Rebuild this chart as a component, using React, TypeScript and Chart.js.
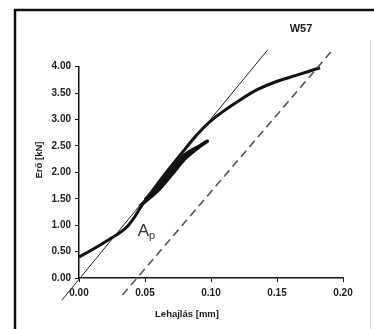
import React, { useEffect, useRef } from "react";
import { Chart, registerables } from "chart.js";

Chart.register(...registerables);

// Main load–deflection curve
const curveX = [0, 0.0096, 0.0222, 0.0348, 0.0411, 0.0475, 0.06, 0.07, 0.08, 0.0885, 0.0992, 0.109, 0.122, 0.1346, 0.1497, 0.165, 0.1826];
const curveY = [0.4, 0.53, 0.72, 0.93, 1.12, 1.37, 1.8, 2.12, 2.43, 2.69, 2.96, 3.15, 3.37, 3.56, 3.72, 3.84, 3.98];

// Unloading / reloading loop
const loopX = [0.046, 0.06, 0.07, 0.08, 0.09, 0.0972, 0.092, 0.08, 0.07, 0.06, 0.05];
const loopY = [1.36, 1.66, 1.95, 2.25, 2.46, 2.59, 2.51, 2.33, 2.04, 1.75, 1.48];

// Tangent (initial stiffness) line
const tangentX = [-0.013, 0.143];
const tangentY = [-0.42, 4.32];

// Offset (dashed) line
const offsetX = [0.033, 0.1915];
const offsetY = [-0.32, 4.3];

const xMin = 0, xMax = 0.2, xStep = 0.05;
const yMin = 0, yMax = 4, yStep = 0.5;

const chartTitle = "W57";
const xTitle = "Lehajlás [mm]";
const yTitle = "Erő [kN]";

const pts = (xs: number[], ys: number[]) => xs.map((x, i) => ({ x, y: ys[i] }));

const FONT = "'Liberation Sans', Arial, sans-serif";

export default function App() {
  const ref = useRef<HTMLCanvasElement | null>(null);

  useEffect(() => {
    document.body.style.margin = "0";
    const canvas = ref.current!;
    const textPlugin = {
      id: "texts",
      beforeDraw(chart: any) {
        const c = chart.ctx;
        c.save();
        c.fillStyle = "#fff";
        c.fillRect(0, 0, chart.width, chart.height);
        c.strokeStyle = "#111";
        c.lineWidth = 2.5;
        c.beginPath();
        c.moveTo(15, 329);
        c.lineTo(15, 10);
        c.lineTo(374, 10);
        c.stroke();
        c.strokeStyle = "#ddd";
        c.lineWidth = 1;
        c.beginPath();
        c.moveTo(370.5, 40);
        c.lineTo(370.5, 329);
        c.stroke();
        c.restore();
      },
      afterDraw(chart: any) {
        const c = chart.ctx;
        const xs = chart.scales.x;
        const ys = chart.scales.y;
        c.save();
        c.fillStyle = "#1a1a1a";
        c.textAlign = "center";
        c.textBaseline = "middle";
        c.font = `bold 11px ${FONT}`;
        c.fillText(chartTitle, 301, 29);
        c.font = `bold 9.5px ${FONT}`;
        c.fillText(xTitle, 187, 314);
        c.save();
        c.translate(39, 160);
        c.rotate(-Math.PI / 2);
        c.fillText(yTitle, 0, 0);
        c.restore();
        // A_p label
        const ax = xs.getPixelForValue(0.0445);
        const ay = ys.getPixelForValue(0.8);
        c.fillStyle = "#333";
        c.textAlign = "left";
        c.textBaseline = "alphabetic";
        c.font = `17px ${FONT}`;
        c.fillText("A", ax, ay);
        const w = c.measureText("A").width;
        c.font = `11px ${FONT}`;
        c.fillText("p", ax + w, ay + 3);
        c.restore();
      },
    };

    const chart = new Chart(canvas, {
      type: "scatter",
      data: {
        datasets: [
          {
            data: pts(offsetX, offsetY),
            showLine: true,
            borderColor: "#555",
            borderWidth: 1.6,
            borderDash: [8, 5],
            pointRadius: 0,
          },
          {
            data: pts(tangentX, tangentY),
            showLine: true,
            borderColor: "#222",
            borderWidth: 1,
            pointRadius: 0,
          },
          {
            data: pts(loopX, loopY),
            showLine: true,
            borderColor: "#111",
            borderWidth: 3.5,
            tension: 0.3,
            pointRadius: 0,
          },
          {
            data: pts(curveX, curveY),
            showLine: true,
            borderColor: "#111",
            borderWidth: 3,
            tension: 0.4,
            pointRadius: 0,
          },
        ],
      },
      options: {
        animation: false,
        responsive: true,
        maintainAspectRatio: false,
        clip: false as any,
        layout: { padding: { left: 0, top: 66.7, right: 31, bottom: 0 } },
        plugins: { legend: { display: false }, tooltip: { enabled: false } },
        scales: {
          x: {
            type: "linear",
            min: xMin,
            max: xMax,
            afterFit: (s: any) => {
              s.height = 51;
            },
            border: { display: true, color: "#111", width: 1.5 },
            grid: { drawOnChartArea: false, drawTicks: true, tickLength: 4, color: "#111" },
            ticks: {
              stepSize: xStep,
              padding: 5,
              color: "#222",
              font: { family: FONT, size: 10, weight: "bold" },
              maxRotation: 0,
              callback: (v: any) => Number(v).toFixed(2),
            },
          },
          y: {
            type: "linear",
            min: yMin,
            max: yMax,
            afterFit: (s: any) => {
              s.width = 79;
            },
            border: { display: true, color: "#111", width: 1.5 },
            grid: { drawOnChartArea: false, drawTicks: true, tickLength: 4, color: "#111" },
            ticks: {
              stepSize: yStep,
              padding: 4,
              color: "#222",
              font: { family: FONT, size: 10, weight: "bold" },
              callback: (v: any) => Number(v).toFixed(2),
            },
          },
        },
      },
      plugins: [textPlugin],
    } as any);
    return () => chart.destroy();
  }, []);

  return (
    <div style={{ position: "absolute", left: 0, top: 0, width: 374, height: 329 }}>
      <canvas ref={ref} />
    </div>
  );
}
